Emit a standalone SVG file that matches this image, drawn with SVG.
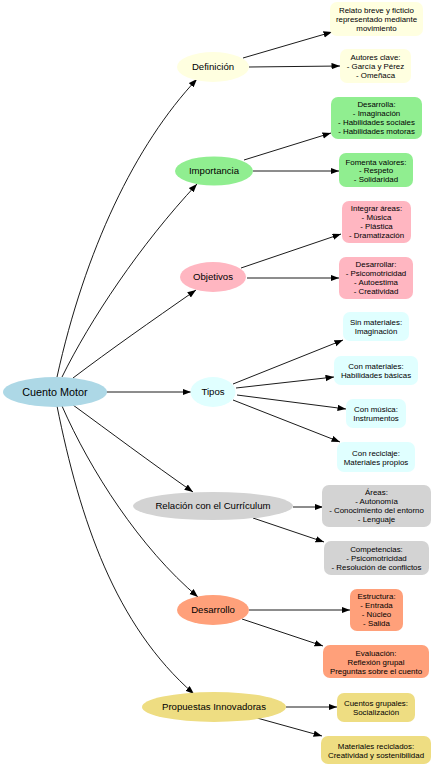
<svg xmlns="http://www.w3.org/2000/svg" width="434" height="768" viewBox="0 0 434 768">
<defs>
<marker id="arr" markerUnits="userSpaceOnUse" markerWidth="9" markerHeight="7" refX="8.5" refY="3.2" orient="auto">
<path d="M0,0 L8.5,3.2 L0,6.4 z" fill="#000"/>
</marker>
<style>
.e{fill:none;stroke:#000;stroke-width:0.9;marker-end:url(#arr)}
.m{font-family:"Liberation Sans",Arial,sans-serif;font-size:9.6px;text-anchor:middle;fill:#000}
.r{font-family:"Liberation Sans",Arial,sans-serif;font-size:10.8px;text-anchor:middle;fill:#000}
.l{font-family:"Liberation Sans",Arial,sans-serif;font-size:7.9px;text-anchor:middle;fill:#000}
.y{fill:#FFFFE0}.g{fill:#90EE90}.p{fill:#FFB6C1}.c{fill:#E0FFFF}.s{fill:#D3D3D3}.o{fill:#FFA07A}.d{fill:#EEDD82}.b{fill:#ADD8E6}
</style>
</defs>
<rect width="434" height="768" fill="#fff"/>
<g id="connectors">
<path class="e" d="M57,377 C85,250 135,145 197,79"/>
<path class="e" d="M62,377 C90,320 140,245 197,184"/>
<path class="e" d="M73,378 C110,350 150,322 196,290"/>
<path class="e" d="M106,392 L191,392"/>
<path class="e" d="M73,405 C110,432 150,462 193,492"/>
<path class="e" d="M62,406 C90,470 140,548 198,597"/>
<path class="e" d="M57,406 C80,520 115,625 194,694"/>
<path class="e" d="M243,58 L332,32"/>
<path class="e" d="M249,67 L340,66"/>
<path class="e" d="M244,160 L331,133"/>
<path class="e" d="M253,171 L339,171"/>
<path class="e" d="M241,268 L341,234"/>
<path class="e" d="M247,278 L339,278"/>
<path class="e" d="M233,384 L343,340"/>
<path class="e" d="M236,388 L334,377"/>
<path class="e" d="M237,395 L346,409"/>
<path class="e" d="M233,400 L340,442"/>
<path class="e" d="M293,507 L323,507"/>
<path class="e" d="M253,518 L324,542"/>
<path class="e" d="M249,610 L350,610"/>
<path class="e" d="M242,619 L323,646"/>
<path class="e" d="M286,707 L337,707"/>
<path class="e" d="M257,718 L322,736"/>
</g>
<g id="root"><ellipse class="b" cx="55" cy="392" rx="52" ry="15"/><text class="r" x="55" y="395.8">Cuento Motor</text></g>
<g id="definicion"><ellipse class="y" cx="213" cy="67" rx="36" ry="15"/><text class="m" x="213" y="70.4">Definición</text></g>
<g id="importancia"><ellipse class="g" cx="214" cy="171" rx="39" ry="14.5"/><text class="m" x="214" y="174.4">Importancia</text></g>
<g id="objetivos"><ellipse class="p" cx="213" cy="277" rx="33" ry="15"/><text class="m" x="213" y="280.4">Objetivos</text></g>
<g id="tipos"><ellipse class="c" cx="213" cy="392" rx="22.5" ry="15"/><text class="m" x="213" y="395.4">Tipos</text></g>
<g id="relacion"><ellipse class="s" cx="213" cy="506" rx="80" ry="14"/><text class="m" x="213" y="509.4">Relación con el Currículum</text></g>
<g id="desarrollo"><ellipse class="o" cx="213" cy="610" rx="36" ry="15"/><text class="m" x="213" y="613.4">Desarrollo</text></g>
<g id="propuestas"><ellipse class="d" cx="214" cy="707" rx="72" ry="15"/><text class="m" x="214" y="710.4">Propuestas Innovadoras</text></g>
<g id="def1"><rect class="y" x="330" y="2" width="93" height="34" rx="7"/><text class="l" x="376.5"><tspan x="376.5" y="13">Relato breve y ficticio</tspan><tspan x="376.5" y="21.8">representado mediante</tspan><tspan x="376.5" y="30.6">movimiento</tspan></text></g>
<g id="def2"><rect class="y" x="340" y="49" width="71" height="34" rx="7"/><text class="l"><tspan x="375.5" y="60">Autores clave:</tspan><tspan x="375.5" y="68.8">- García y Pérez</tspan><tspan x="375.5" y="77.6">- Omeñaca</tspan></text></g>
<g id="imp1"><rect class="g" x="331" y="97" width="91" height="42" rx="7"/><text class="l"><tspan x="376.5" y="107.4">Desarrolla:</tspan><tspan x="376.5" y="116.2">- Imaginación</tspan><tspan x="376.5" y="125">- Habilidades sociales</tspan><tspan x="376.5" y="133.8">- Habilidades motoras</tspan></text></g>
<g id="imp2"><rect class="g" x="339" y="153" width="74" height="34" rx="7"/><text class="l"><tspan x="376" y="164.8">Fomenta valores:</tspan><tspan x="376" y="173.2">- Respeto</tspan><tspan x="376" y="181.6">- Solidaridad</tspan></text></g>
<g id="obj1"><rect class="p" x="342" y="201" width="69" height="42" rx="7"/><text class="l"><tspan x="376.5" y="211.4">Integrar áreas:</tspan><tspan x="376.5" y="220.2">- Música</tspan><tspan x="376.5" y="229">- Plástica</tspan><tspan x="376.5" y="237.8">- Dramatización</tspan></text></g>
<g id="obj2"><rect class="p" x="339" y="257" width="74" height="42" rx="7"/><text class="l"><tspan x="376" y="267.4">Desarrollar:</tspan><tspan x="376" y="276.2">- Psicomotricidad</tspan><tspan x="376" y="285">- Autoestima</tspan><tspan x="376" y="293.8">- Creatividad</tspan></text></g>
<g id="tipo1"><rect class="c" x="343" y="312" width="66" height="29" rx="7"/><text class="l"><tspan x="376" y="325">Sin materiales:</tspan><tspan x="376" y="334.3">Imaginación</tspan></text></g>
<g id="tipo2"><rect class="c" x="334" y="356" width="84" height="29" rx="7"/><text class="l"><tspan x="376" y="369">Con materiales:</tspan><tspan x="376" y="378.3">Habilidades básicas</tspan></text></g>
<g id="tipo3"><rect class="c" x="346" y="399" width="60" height="29" rx="7"/><text class="l"><tspan x="376" y="412">Con música:</tspan><tspan x="376" y="421.3">Instrumentos</tspan></text></g>
<g id="tipo4"><rect class="c" x="337" y="442" width="78" height="30" rx="7"/><text class="l"><tspan x="376" y="455.5">Con reciclaje:</tspan><tspan x="376" y="464.8">Materiales propios</tspan></text></g>
<g id="rel1"><rect class="s" x="322" y="485" width="109" height="42" rx="7"/><text class="l"><tspan x="376.5" y="495.4">Áreas:</tspan><tspan x="376.5" y="504.2">- Autonomía</tspan><tspan x="376.5" y="513">- Conocimiento del entorno</tspan><tspan x="376.5" y="521.8">- Lenguaje</tspan></text></g>
<g id="rel2"><rect class="s" x="324" y="541" width="105" height="34" rx="7"/><text class="l"><tspan x="376.5" y="552">Competencias:</tspan><tspan x="376.5" y="560.8">- Psicomotricidad</tspan><tspan x="376.5" y="569.6">- Resolución de conflictos</tspan></text></g>
<g id="des1"><rect class="o" x="350" y="589" width="53" height="42" rx="7"/><text class="l"><tspan x="376.5" y="599.4">Estructura:</tspan><tspan x="376.5" y="608.2">- Entrada</tspan><tspan x="376.5" y="617">- Núcleo</tspan><tspan x="376.5" y="625.8">- Salida</tspan></text></g>
<g id="des2"><rect class="o" x="323" y="645" width="106" height="33" rx="7"/><text class="l"><tspan x="376" y="656">Evaluación:</tspan><tspan x="376" y="664.8">Reflexión grupal</tspan><tspan x="376" y="673.6">Preguntas sobre el cuento</tspan></text></g>
<g id="prop1"><rect class="d" x="337" y="693" width="78" height="29" rx="7"/><text class="l"><tspan x="376" y="706">Cuentos grupales:</tspan><tspan x="376" y="715.3">Socialización</tspan></text></g>
<g id="prop2"><rect class="d" x="321" y="736" width="110" height="28" rx="7"/><text class="l"><tspan x="376" y="748.5">Materiales reciclados:</tspan><tspan x="376" y="757.8">Creatividad y sostenibilidad</tspan></text></g>
</svg>
